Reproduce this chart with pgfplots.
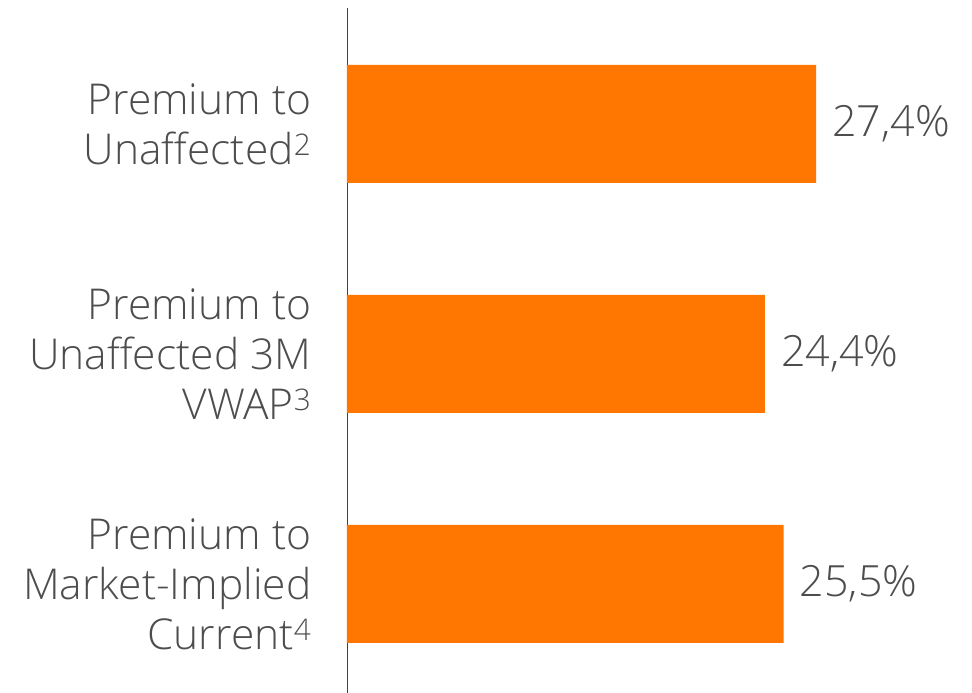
\documentclass[border=0pt]{standalone}
\usepackage{pgfplots}
\pgfplotsset{compat=1.18}
\usepackage{fontspec}
\setmainfont{Open Sans Light}
\definecolor{barorange}{HTML}{FF7600}
\definecolor{txtgray}{HTML}{4D4D4D}
\definecolor{axgray}{HTML}{404040}
\begin{document}
\begin{tikzpicture}
\useasboundingbox (-347pt,0pt) rectangle (625pt,693pt);
\begin{axis}[
  scale only axis,
  width=625pt, height=685pt,
  xmin=0, xmax=36.5,
  ymin=-0.474, ymax=2.504,
  axis x line=none,
  axis y line*=left,
  y axis line style={draw=axgray, line width=0.8pt, -},
  ytick={0,1,2},
  yticklabels={{Premium to\\Market-Implied\\Current\textsuperscript{4}},
               {Premium to\\Unaffected 3M\\VWAP\textsuperscript{3}},
               {Premium to\\Unaffected\textsuperscript{2}}},
  major tick length=0pt,
  ytick style={draw=none},
  yticklabel style={anchor=east, inner sep=0pt, xshift=-35.5pt, align=right,
    font=\fontsize{42.5}{50}\selectfont, text=txtgray},
  xbar, bar width=118pt, bar shift=0pt,
  point meta=explicit symbolic,
  nodes near coords,
  nodes near coords style={anchor=west, inner sep=0pt, xshift=16pt,
    font=\fontsize{43}{50}\selectfont, text=txtgray},
  clip=false,
]
\addplot[fill=barorange, draw=none] coordinates {
  (27.4,2) [27,4\%]
  (24.4,1) [24,4\%]
  (25.5,0) [25,5\%]
};
\end{axis}
\end{tikzpicture}
\end{document}
